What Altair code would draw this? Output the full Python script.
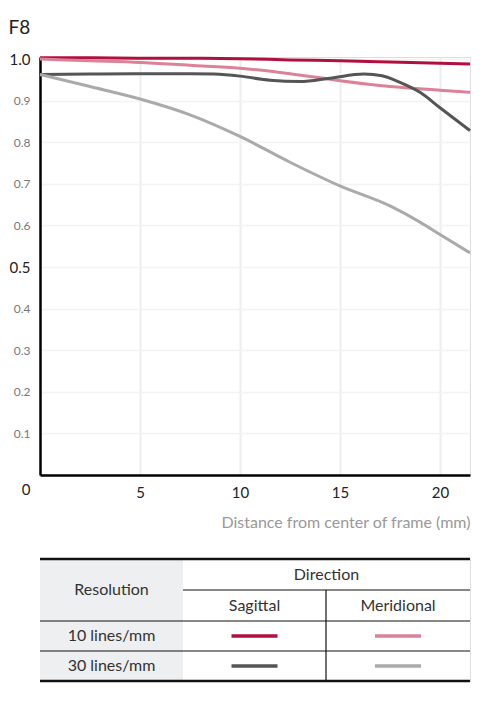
import altair as alt
import pandas as pd

# MTF curves at F8
series_names = ["Sagittal 10", "Meridional 10", "Sagittal 30", "Meridional 30"]
series_colors = ["#b0103f", "#db8299", "#555555", "#aaaaaa"]

sag10_x = [0, 2.5, 5, 7.5, 10, 12.5, 15, 17.5, 20, 21.5]
sag10_y = [1.003, 1.003, 1.002, 1.002, 1.001, 0.998, 0.996, 0.993, 0.990, 0.988]

mer10_x = [0, 2.5, 5, 7.5, 10, 12.5, 15, 17.5, 20, 21.5]
mer10_y = [1.000, 0.996, 0.992, 0.985, 0.978, 0.965, 0.948, 0.934, 0.925, 0.920]

sag30_x = [0, 2.5, 5, 7.5, 8.7, 10, 11.5, 13, 14.5, 16.2, 17.1, 18, 19, 20, 21.5]
sag30_y = [0.963, 0.964, 0.965, 0.965, 0.964, 0.959, 0.949, 0.946, 0.954, 0.964, 0.960, 0.944, 0.920, 0.883, 0.828]

mer30_x = [0, 2.5, 5, 7.5, 10, 12.5, 15, 17.5, 19, 20, 21.5]
mer30_y = [0.963, 0.934, 0.904, 0.866, 0.814, 0.752, 0.695, 0.647, 0.608, 0.578, 0.534]

y_ticks = [0.1, 0.2, 0.3, 0.4, 0.5, 0.6, 0.7, 0.8, 0.9, 1.0]
x_ticks = [5, 10, 15, 20]

# table legend text
resolutions = ["10 lines/mm", "30 lines/mm"]
directions = ["Sagittal", "Meridional"]

FONT = "Lato"

rows = []
for name, xs, ys in [
    ("Sagittal 10", sag10_x, sag10_y),
    ("Meridional 10", mer10_x, mer10_y),
    ("Sagittal 30", sag30_x, sag30_y),
    ("Meridional 30", mer30_x, mer30_y),
]:
    for i, (xv, yv) in enumerate(zip(xs, ys)):
        rows.append({"series": name, "x": xv, "mtf": yv, "order": i})
curves = pd.DataFrame(rows)

color_scale = alt.Scale(domain=series_names, range=series_colors)

big = "datum.value == 1 || datum.value == 0.5"

lines = alt.Chart(curves).mark_line(
    strokeWidth=3, interpolate="monotone"
).encode(
    x=alt.X("x:Q", scale=alt.Scale(domain=[0, 21.5], nice=False),
            axis=alt.Axis(
                values=x_ticks, grid=True, gridColor="#eeeeee", gridWidth=2,
                domainColor="#000000", domainWidth=2.5, ticks=False,
                labelFont=FONT, labelFontSize=15, labelColor="#222222",
                labelPadding=10,
                title="Distance from center of frame (mm)",
                titleFont=FONT, titleFontSize=16, titleFontWeight="normal",
                titleColor="#999999", titleAnchor="end", titleAlign="right",
                titlePadding=14,
            )),
    y=alt.Y("mtf:Q", scale=alt.Scale(domain=[0, 1.005], nice=False),
            axis=alt.Axis(
                values=y_ticks, grid=True, gridColor="#f3f3f3", gridWidth=1.5,
                domainColor="#000000", domainWidth=2.5, ticks=False,
                labelFont=FONT, labelPadding=10, format=".1f",
                labelFontSize={"condition": {"test": big, "value": 15}, "value": 12},
                labelColor={"condition": {"test": big, "value": "#222222"}, "value": "#777777"},
                title=None,
            )),
    color=alt.Color("series:N", scale=color_scale, legend=None),
    order="order:Q",
)

zero_label = alt.Chart(pd.DataFrame({"x": [0], "mtf": [0], "t": ["0"]})).mark_text(
    font=FONT, fontSize=15, color="#222222", dx=-14, dy=15
).encode(x="x:Q", y="mtf:Q", text="t:N")

main = alt.layer(lines, zero_label).properties(width=430, height=418)

# ---- table legend, laid out in a 430 x 122 pixel grid ----
W, H = 430, 122
col1, col2 = 143, 286
r1, r2, r3 = 31, 62, 92

tx = alt.Scale(domain=[0, W], nice=False)
ty = alt.Scale(domain=[H, 0], nice=False)

bg = alt.Chart(pd.DataFrame({"x": [0], "x2": [col1], "y": [0], "y2": [H]})).mark_rect(
    color="#eeeff0"
).encode(
    x=alt.X("x:Q", scale=tx, axis=None), x2="x2:Q",
    y=alt.Y("y:Q", scale=ty, axis=None), y2="y2:Q",
)

hlines = pd.DataFrame({
    "x": [0, 0, col1, 0, 0],
    "x2": [W, W, W, W, W],
    "y": [0, H, r1, r2, r3],
    "w": [2.5, 2.5, 1.2, 1.2, 1.2],
})
hrules = alt.Chart(hlines).mark_rule(color="#111111").encode(
    x=alt.X("x:Q", scale=tx, axis=None), x2="x2:Q",
    y=alt.Y("y:Q", scale=ty, axis=None),
    strokeWidth=alt.StrokeWidth("w:Q", scale=None),
)

vrule = alt.Chart(pd.DataFrame({"x": [col2], "y": [r1], "y2": [H]})).mark_rule(
    color="#111111", strokeWidth=1.2
).encode(
    x=alt.X("x:Q", scale=tx, axis=None),
    y=alt.Y("y:Q", scale=ty, axis=None), y2="y2:Q",
)

labels = pd.DataFrame({
    "x": [(col1 + W) / 2, col1 / 2, (col1 + col2) / 2, (col2 + W) / 2, col1 / 2, col1 / 2],
    "y": [r1 / 2, r2 / 2, (r1 + r2) / 2, (r1 + r2) / 2, (r2 + r3) / 2, (r3 + H) / 2],
    "t": ["Direction", "Resolution"] + directions + resolutions,
})
texts = alt.Chart(labels).mark_text(
    font=FONT, fontSize=16, color="#333333", baseline="middle"
).encode(
    x=alt.X("x:Q", scale=tx, axis=None),
    y=alt.Y("y:Q", scale=ty, axis=None),
    text="t:N",
)

sw_half = 23
swatches = pd.DataFrame({
    "series": series_names,
    "x": [(col1 + col2) / 2 - sw_half, (col2 + W) / 2 - sw_half] * 2,
    "x2": [(col1 + col2) / 2 + sw_half, (col2 + W) / 2 + sw_half] * 2,
    "y": [(r2 + r3) / 2] * 2 + [(r3 + H) / 2] * 2,
})
sw = alt.Chart(swatches).mark_rule(strokeWidth=3.5).encode(
    x=alt.X("x:Q", scale=tx, axis=None), x2="x2:Q",
    y=alt.Y("y:Q", scale=ty, axis=None),
    color=alt.Color("series:N", scale=color_scale, legend=None),
)

table = alt.layer(bg, hrules, vrule, texts, sw).properties(width=W, height=H)

chart = alt.vconcat(main, table, spacing=26).properties(
    padding={"top": 11, "left": 0, "right": 0, "bottom": 0},
    title=alt.TitleParams("F8", anchor="start", font=FONT, fontSize=19,
                          fontWeight="normal", color="#222222", offset=13)
).configure_view(
    stroke=None
).configure(background="white")

chart.save("out.html", embed_options={"renderer": "svg", "actions": False})
